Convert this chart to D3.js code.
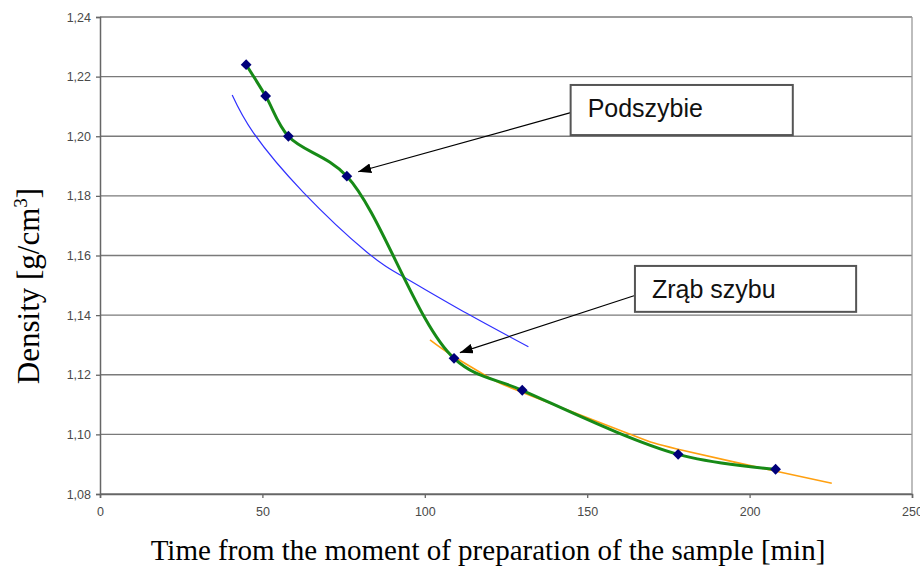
<!DOCTYPE html>
<html lang="pl">
<head>
<meta charset="utf-8">
<title>Density vs time</title>
<script src="https://d3js.org/d3.v7.min.js"></script>
<style>
  body { margin: 0; background: #fff; }
</style>
</head>
<body>
<script>
// measured samples (green line with markers)
var times = [45, 51, 58, 76, 109, 130, 178, 208];
var density = [1.224, 1.2135, 1.200, 1.1866, 1.1255, 1.1148, 1.0933, 1.0883];

// blue trend line
var blueTime = [40.7, 47.2, 62.6, 82.1, 94.4, 112.9, 131.9];
var blueDensity = [1.2138, 1.2012, 1.1812, 1.1612, 1.1522, 1.1406, 1.1294];

// orange trend line
var orangeTime = [101.6, 108.8, 119.1, 130.3, 162.2, 177.6, 207.8, 225.3];
var orangeDensity = [1.1317, 1.1262, 1.1195, 1.1140, 1.1005, 1.0951, 1.0877, 1.0836];

var xTicks = [0, 50, 100, 150, 200, 250];
var yTicks = [1.08, 1.10, 1.12, 1.14, 1.16, 1.18, 1.20, 1.22, 1.24];

// callouts, in data units
var notes = [
  { text: "Podszybie", x0: 144.9, y0: 1.2172, x1: 213.3, y1: 1.2004, fx: 144.9, fy: 1.2079, tx: 79.5, ty: 1.1881 },
  { text: "Zrąb szybu", x0: 164.7, y0: 1.1565, x1: 232.8, y1: 1.1411, fx: 164.4, fy: 1.1465, tx: 110.8, ty: 1.1274 }
];

var w = 920, h = 569;
var plotL = 100, plotR = 912, plotT = 17, plotB = 494;

var x = d3.scaleLinear().domain([0, 250]).range([plotL, plotR]);
var y = d3.scaleLinear().domain([1.08, 1.24]).range([plotB, plotT]);

var comma = d3.formatLocale({ decimal: ",", thousands: " ", grouping: [3], currency: ["", ""] }).format(".2f");

var svg = d3.select("body").append("svg")
  .attr("width", w)
  .attr("height", h);

svg.append("defs").append("marker")
  .attr("id", "head")
  .attr("markerUnits", "userSpaceOnUse")
  .attr("markerWidth", 14)
  .attr("markerHeight", 10)
  .attr("refX", 13)
  .attr("refY", 5)
  .attr("orient", "auto")
  .append("path")
  .attr("d", "M0,0 L13,5 L0,10 Z")
  .attr("fill", "#000");

// horizontal grid
svg.append("g")
  .selectAll("line")
  .data(yTicks)
  .enter().append("line")
  .attr("x1", plotL)
  .attr("x2", plotR)
  .attr("y1", function(d) { return y(d); })
  .attr("y2", function(d) { return y(d); })
  .attr("stroke", "#7a7a7a")
  .attr("stroke-width", 1.3);

// right border
svg.append("line")
  .attr("x1", plotR).attr("x2", plotR)
  .attr("y1", plotT).attr("y2", plotB)
  .attr("stroke", "#9a9a9a")
  .attr("stroke-width", 1.3);

// axes
var yAxis = svg.append("g")
  .attr("transform", "translate(" + plotL + ",0)")
  .call(d3.axisLeft(y).tickValues(yTicks).tickSize(4).tickPadding(5).tickFormat(comma));

var xAxis = svg.append("g")
  .attr("transform", "translate(0," + plotB + ")")
  .call(d3.axisBottom(x).tickValues(xTicks).tickSize(4).tickPadding(9).tickFormat(d3.format("d")));

[xAxis, yAxis].forEach(function(a) {
  a.select(".domain").attr("stroke", "#666").attr("stroke-width", 1.5);
  a.selectAll(".tick line").attr("stroke", "#666").attr("stroke-width", 1.3);
  a.selectAll("text")
    .attr("fill", "#4a4a4a")
    .style("font-family", "'Liberation Sans', Arial, sans-serif")
    .style("font-size", "12.5px");
});

// trend lines
var trend = d3.line()
  .x(function(d) { return x(d[0]); })
  .y(function(d) { return y(d[1]); })
  .curve(d3.curveNatural);

svg.append("path")
  .datum(d3.zip(blueTime, blueDensity))
  .attr("d", trend)
  .attr("fill", "none")
  .attr("stroke", "#3030ff")
  .attr("stroke-width", 1.2);

svg.append("path")
  .datum(d3.zip(orangeTime, orangeDensity))
  .attr("d", trend)
  .attr("fill", "none")
  .attr("stroke", "#ffa010")
  .attr("stroke-width", 1.6);

// measured series
var pts = d3.zip(times, density);

var smooth = d3.line()
  .x(function(d) { return x(d[0]); })
  .y(function(d) { return y(d[1]); })
  .curve(d3.curveCatmullRom);

svg.append("path")
  .datum(pts)
  .attr("d", smooth)
  .attr("fill", "none")
  .attr("stroke", "#178a17")
  .attr("stroke-width", 3);

svg.append("g")
  .selectAll("path")
  .data(pts)
  .enter().append("path")
  .attr("d", d3.symbol(d3.symbolSquare, 58))
  .attr("transform", function(d) { return "translate(" + x(d[0]) + "," + y(d[1]) + ") rotate(45)"; })
  .attr("fill", "#00007a");

// callouts
var g = svg.append("g").selectAll("g").data(notes).enter().append("g");

g.append("line")
  .attr("x1", function(d) { return x(d.fx); })
  .attr("y1", function(d) { return y(d.fy); })
  .attr("x2", function(d) { return x(d.tx); })
  .attr("y2", function(d) { return y(d.ty); })
  .attr("stroke", "#000")
  .attr("stroke-width", 1.2)
  .attr("marker-end", "url(#head)");

g.append("rect")
  .attr("x", function(d) { return x(d.x0); })
  .attr("y", function(d) { return y(d.y0); })
  .attr("width", function(d) { return x(d.x1) - x(d.x0); })
  .attr("height", function(d) { return y(d.y1) - y(d.y0); })
  .attr("fill", "#fff")
  .attr("stroke", "#555")
  .attr("stroke-width", 2);

g.append("text")
  .attr("x", function(d) { return x(d.x0) + 17; })
  .attr("y", function(d) { return y(d.y0) + 32; })
  .text(function(d) { return d.text; })
  .attr("fill", "#111")
  .style("font-family", "'Liberation Sans', Arial, sans-serif")
  .style("font-size", "25px");

// axis titles
svg.append("text")
  .attr("x", (plotL + plotR) / 2 - 18)
  .attr("y", 560)
  .attr("text-anchor", "middle")
  .style("font-family", "'Liberation Serif', 'Times New Roman', serif")
  .style("font-size", "29px")
  .text("Time from the moment of preparation of the sample [min]");

var yt = svg.append("text")
  .attr("transform", "translate(39,286) rotate(-90)")
  .attr("text-anchor", "middle")
  .style("font-family", "'Liberation Serif', 'Times New Roman', serif")
  .style("font-size", "31px");
yt.append("tspan").text("Density [g/cm");
yt.append("tspan").attr("dy", -12).style("font-size", "19px").text("3");
yt.append("tspan").attr("dy", 12).text("]");
</script>
</body>
</html>
